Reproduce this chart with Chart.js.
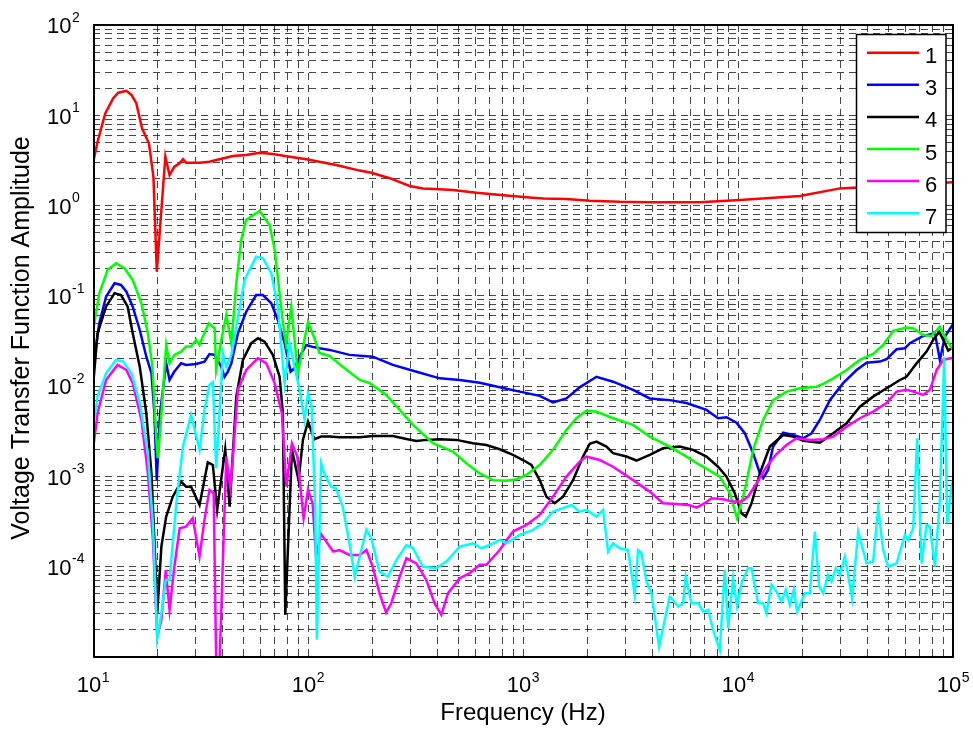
<!DOCTYPE html>
<html>
<head>
<meta charset="utf-8">
<title>Voltage Transfer Function Amplitude</title>
<script src="https://cdn.jsdelivr.net/npm/chart.js@4.4.1/dist/chart.umd.min.js"></script>
<style>
	html, body { margin: 0; padding: 0; background: #fff; }
	#wrap { width: 973px; height: 732px; }
</style>
</head>
<body>
<div id="wrap"><canvas id="chart" width="973" height="732"></canvas></div>
<script>

// series names and colours, in legend order
const seriesNames = [ '1', '3', '4', '5', '6', '7' ];
const seriesColours = [ '#ff0000', '#0000ff', '#000000', '#00ff00', '#ff00ff', '#00ffff' ];

// decade labels shown on the axes (powers of ten)
const xTickExponents = [ 1, 2, 3, 4, 5 ];
const yTickExponents = [ -4, -3, -2, -1, 0, 1, 2 ];

// frequency (Hz) / amplitude pairs

const freq1 = [ 10, 10.5, 11.4, 12.4, 13.1, 14.3, 15.1, 15.9, 16.9, 18.2, 19.1, 19.8, 21.7, 22.7, 23.9, 25.3, 26.2, 27.1, 31.3, 34.8,
	38.8, 44.7, 51.6, 59.5, 68.6, 82.1, 98.2, 113, 135, 174, 197, 240, 297, 342, 410, 472, 607, 837, 1037, 1239,
	1592, 2043, 2818, 3887, 6640, 10200, 19400, 29800, 100000 ];
const amp1 = [ 2.94, 5.10, 10.5, 15.4, 17.8, 18.7, 16.8, 13.6, 7.18, 4.90, 2.09, 0.185, 3.48, 2.18, 2.70, 2.94, 3.26, 2.99, 2.99, 3.06,
	3.26, 3.54, 3.63, 3.85, 3.73, 3.48, 3.26, 3.06, 2.82, 2.44, 2.31, 2.01, 1.65, 1.55, 1.52, 1.49, 1.39, 1.29, 1.24, 1.20,
	1.18, 1.13, 1.10, 1.09, 1.09, 1.15, 1.28, 1.55, 1.81 ];

const freq3 = [ 10, 10.7, 11.5, 12.6, 13.5, 14.3, 15.3, 16.5, 17.7, 18.7, 19.3, 19.8, 20.5, 21.9, 22.7, 23.9, 25.7, 27.1, 30.2, 33.0,
	34.8, 36.8, 39.5, 40.9, 42.4, 44.0, 47.2, 51.6, 57.4, 61.7, 67.5, 72.4, 77.8, 83.0, 86.6, 91.4, 98.2, 104, 113, 126,
	156, 200, 248, 308, 410, 508, 629, 779, 965, 1196, 1379, 1592, 1835, 2196, 2623, 3250, 3887, 4815, 5754, 7136,
	8075, 8840, 9840, 10760, 11760, 12640, 13090, 13800, 14560, 16220, 18050, 20100, 21980, 24020, 26740, 30830, 35600, 39630, 45680, 49100,
	54660, 59750, 63020, 72650, 82380, 86900, 91700, 100000 ];
const amp3 = [ 1.64e-2, 4.97e-2, 9.8e-2, 1.38e-1, 1.32e-1, 1.11e-1, 7.59e-2, 4.19e-2, 2.12e-2, 1.39e-2, 5.01e-3, 9.1e-4, 5.0e-3, 1.79e-2, 1.17e-2, 1.45e-2, 1.79e-2, 1.72e-2, 1.76e-2, 1.87e-2,
	2.27e-2, 2.22e-2, 1.64e-2, 1.27e-2, 1.45e-2, 1.79e-2, 3.85e-2, 6.68e-2, 1.02e-1, 1.02e-1, 8.28e-2, 5.41e-2, 2.99e-2, 1.45e-2, 1.58e-2, 2.12e-2, 2.86e-2, 2.74e-2, 2.63e-2, 2.52e-2,
	2.22e-2, 2.12e-2, 1.72e-2, 1.48e-2, 1.22e-2, 1.17e-2, 1.09e-2, 9.7e-3, 8.7e-3, 7.8e-3, 6.6e-3, 7.3e-3, 9.7e-3, 1.27e-2, 1.12e-2, 9.1e-3, 7.3e-3, 7.0e-3, 6.5e-3, 5.45e-3,
	4.41e-3, 4.53e-3, 3.94e-3, 3.01e-3, 1.81e-3, 1.08e-3, 9.55e-4, 1.18e-3, 2.14e-3, 3.05e-3, 2.88e-3, 2.65e-3, 3.01e-3, 4.22e-3, 7.0e-3, 1.08e-2, 1.51e-2, 1.82e-2, 1.87e-2, 1.99e-2,
	2.56e-2, 2.63e-2, 2.99e-2, 3.6e-2, 3.85e-2, 1.95e-2, 3.53e-2, 4.85e-2 ];

const freq4 = [ 10, 10.5, 11.5, 12.6, 13.5, 14.5, 15.3, 16.5, 17.7, 18.7, 19.3, 19.9, 20.8, 21.9, 23.5, 25.7, 27.1, 28.6, 31.3, 34.2,
	36.1, 37.8, 41.2, 43.2, 46.4, 49.8, 54.5, 58.5, 62.8, 68.6, 73.8, 76.4, 78.4, 84.2, 90.4, 94.7, 100, 107, 115, 126,
	140, 174, 200, 248, 287, 319, 355, 410, 490, 585, 676, 779, 898, 1000, 1094, 1196, 1285, 1405, 1535, 1709,
	1902, 2043, 2196, 2444, 2623, 3028, 3372, 3887, 4482, 5358, 6180, 7136, 8075, 8840, 9660, 10380, 10870, 11560, 12640, 14060,
	16220, 18050, 20100, 24020, 27710, 31990, 36880, 42530, 49100, 56620, 60810, 67700, 75340, 80900, 86300, 91700, 95000, 98500 ];
const amp4 = [ 9.87e-3, 3.85e-2, 7.59e-2, 1.07e-1, 1.02e-1, 7.59e-2, 3.85e-2, 1.64e-2, 5.01e-3, 1.08e-3, 1.98e-4, 3.05e-5, 1.67e-4, 3.59e-4, 5.97e-4, 8.76e-4, 7.71e-4, 7.71e-4, 4.83e-4, 1.43e-3,
	1.34e-3, 4.26e-4, 2.0e-3, 4.63e-4, 7.65e-3, 1.95e-2, 2.99e-2, 3.39e-2, 3.11e-2, 2.22e-2, 1.27e-2, 5.01e-3, 2.93e-5, 1.97e-3, 9.1e-4, 2.54e-3, 4.04e-3, 2.58e-3, 2.76e-3, 2.76e-3,
	2.72e-3, 2.72e-3, 2.81e-3, 2.81e-3, 2.60e-3, 2.47e-3, 2.54e-3, 2.58e-3, 2.54e-3, 2.33e-3, 2.23e-3, 2.0e-3, 1.73e-3, 1.52e-3, 1.34e-3, 9.1e-4, 5.97e-4, 5.05e-4, 5.97e-4, 9.1e-4,
	1.66e-3, 2.3e-3, 2.43e-3, 2.14e-3, 1.81e-3, 1.66e-3, 1.50e-3, 1.73e-3, 2.05e-3, 2.14e-3, 1.97e-3, 1.66e-3, 1.28e-3, 9.95e-4, 6.52e-4, 3.91e-4, 3.59e-4, 5.05e-4, 1.08e-3, 2.14e-3,
	2.88e-3, 2.76e-3, 2.49e-3, 2.37e-3, 3.01e-3, 3.88e-3, 5.93e-3, 7.65e-3, 9.48e-3, 1.17e-2, 1.27e-2, 1.79e-2, 2.41e-2, 3.25e-2, 4.01e-2, 2.99e-2, 2.47e-2, 2.63e-2 ];

const freq5 = [ 10, 10.7, 11.7, 12.8, 14.0, 15.3, 16.8, 18.0, 18.9, 19.7, 20.0, 20.5, 21.9, 22.7, 23.9, 25.7, 27.1, 28.6, 30.2, 31.3,
	32.4, 34.6, 36.8, 37.4, 39.5, 41.7, 44.0, 46.4, 48.9, 51.5, 59.5, 66.3, 70.0, 76.2, 79.1, 83.6, 89.7, 100, 107, 113,
	126, 145, 174, 194, 231, 267, 308, 381, 472, 545, 629, 725, 837, 932, 1037, 1196, 1379, 1592, 1772, 1972,
	2196, 2623, 3250, 3887, 4815, 5754, 6640, 7390, 8230, 9160, 9900, 10760, 11760, 13090, 14560, 16820, 19400, 23190, 24890, 27710,
	31990, 36880, 42530, 47330, 52700, 60810, 65280, 72650, 79520, 86900, 93300, 100000 ];
const amp5 = [ 4.01e-2, 1.07e-1, 1.94e-1, 2.30e-1, 2.02e-1, 1.50e-1, 8.28e-2, 3.85e-2, 1.64e-2, 2.54e-3, 1.59e-3, 3.01e-3, 2.86e-2, 1.79e-2, 2.22e-2, 2.41e-2, 2.74e-2, 2.74e-2, 3.25e-2, 2.86e-2,
	3.53e-2, 4.97e-2, 4.38e-2, 1.51e-2, 3.25e-2, 6.14e-2, 2.99e-2, 1.38e-1, 4.16e-1, 6.93e-1, 8.71e-1, 6.10e-1, 3.22e-1, 5.41e-2, 2.86e-2, 7.54e-2, 1.40e-2, 5.14e-2, 3.42e-2, 2.33e-2,
	2.16e-2, 1.64e-2, 1.17e-2, 1.08e-2, 7.99e-3, 5.45e-3, 3.72e-3, 2.33e-3, 1.88e-3, 1.40e-3, 1.08e-3, 9.1e-4, 8.98e-4, 9.31e-4, 1.04e-3, 1.34e-3, 1.97e-3, 3.27e-3, 4.41e-3, 5.35e-3,
	5.22e-3, 4.41e-3, 3.72e-3, 2.76e-3, 2.14e-3, 1.66e-3, 1.34e-3, 1.16e-3, 9.95e-4, 6.52e-4, 3.44e-4, 7.09e-4, 1.97e-3, 4.22e-3, 7.0e-3, 8.7e-3, 9.48e-3, 9.87e-3, 1.06e-2, 1.22e-2,
	1.51e-2, 1.95e-2, 2.27e-2, 2.86e-2, 4.09e-2, 4.45e-2, 4.38e-2, 3.69e-2, 3.6e-2, 4.56e-2, 3.25e-2, 2.52e-2 ];

const freq6 = [ 10, 10.5, 11.5, 13.0, 14.3, 15.3, 16.8, 18.0, 19.0, 19.9, 20.8, 21.8, 22.7, 23.9, 25.3, 27.1, 29.1, 31.3, 33.0, 34.8,
	36.4, 37.4, 38.8, 41.7, 43.6, 47.2, 51.6, 58.5, 64.0, 69.9, 75.6, 79.3, 84.2, 89.2, 95.4, 100, 105, 109, 115, 131,
	140, 156, 174, 187, 200, 215, 231, 244, 267, 287, 319, 355, 388, 417, 448, 508, 565, 629, 676, 779,
	898, 1037, 1196, 1379, 1592, 1835, 1972, 2275, 2623, 3250, 3887, 4482, 5173, 5968, 6412, 7006, 7528, 8524, 9485, 10380,
	11140, 12190, 13570, 15100, 16820, 18710, 21580, 24890, 27710, 31990, 36880, 42530, 49100, 54660, 60810, 65280, 72650, 78100, 83880, 90070,
	100000 ];
const amp6 = [ 1.97e-3, 5.01e-3, 1.17e-2, 1.72e-2, 1.51e-2, 1.08e-2, 4.22e-3, 1.08e-3, 1.98e-4, 1.68e-5, 2.58e-5, 9.22e-5, 3.32e-5, 1.0e-4, 2.67e-4, 2.78e-4, 3.44e-4, 1.29e-4, 3.30e-4, 7.09e-4,
	6.52e-4, 9e-6, 9e-6, 1.66e-3, 7.4e-4, 9.1e-3, 1.51e-2, 2.04e-2, 1.79e-2, 1.08e-2, 5.01e-3, 7.71e-4, 2.33e-3, 1.66e-3, 3.44e-4, 7.09e-4, 5.05e-4, 1.29e-4, 2.3e-4, 1.47e-4,
	1.53e-4, 1.35e-4, 1.35e-4, 1.53e-4, 1.0e-4, 5.09e-5, 3.10e-5, 3.94e-5, 7.77e-5, 1.24e-4, 1.09e-4, 7.14e-5, 3.94e-5, 2.93e-5, 5.09e-5, 7.46e-5, 8.47e-5, 1.05e-4, 1.05e-4, 1.53e-4,
	2.45e-4, 2.90e-4, 3.75e-4, 5.97e-4, 9.95e-4, 1.46e-3, 1.66e-3, 1.52e-3, 1.28e-3, 9.1e-4, 6.79e-4, 5.05e-4, 4.96e-4, 4.80e-4, 4.51e-4, 5.05e-4, 5.74e-4, 5.59e-4, 5.26e-4, 5.26e-4,
	5.97e-4, 8.41e-4, 1.28e-3, 1.77e-3, 2.23e-3, 2.65e-3, 2.54e-3, 2.58e-3, 2.76e-3, 3.56e-3, 4.41e-3, 5.22e-3, 6.5e-3, 8.7e-3, 9.1e-3, 8.7e-3, 7.99e-3, 9.1e-3, 1.51e-2, 1.95e-2,
	2.07e-2 ];

const freq7 = [ 10, 10.5, 11.5, 12.8, 13.8, 15.1, 16.5, 18.0, 19.0, 19.9, 20.8, 21.8, 22.7, 24.4, 26.2, 28.6, 31.3, 33.0, 34.8, 36.1,
	37.4, 40.2, 41.7, 44.0, 46.4, 50.7, 57.4, 61.7, 67.5, 72.4, 77.8, 82.1, 86.6, 91.4, 96.4, 100, 104, 108, 110, 115,
	119, 128, 135, 145, 156, 165, 177, 187, 197, 215, 235, 258, 287, 308, 342, 395, 440, 508, 585, 640,
	700, 779, 837, 965, 1113, 1239, 1379, 1535, 1680, 1835, 1972, 2196, 2357, 2486, 2623, 2818, 3080, 3310, 3428, 3556,
	3752, 3958, 4295, 4815, 5264, 5556, 5715, 6075, 6522, 6880, 7260, 7657, 8230, 8682, 8995, 9485, 9900, 10380, 11140, 11560,
	12410, 13090, 13570, 14320, 15100, 15940, 16690, 17420, 18180, 18840, 20460, 21580, 22780, 23850, 24890, 26250, 27230, 28510, 29770, 31410,
	33960, 36220, 39630, 42530, 44870, 47330, 49950, 54660, 59750, 61880, 65280, 68130, 71450, 75340, 78100, 82380, 86900, 91010, 93970, 98500,
	100000 ];
const amp7 = [ 3.27e-3, 7.65e-3, 1.39e-2, 1.95e-2, 1.87e-2, 1.39e-2, 6.5e-3, 1.81e-3, 3.03e-4, 1.62e-5, 3.05e-5, 7.14e-5, 7.14e-5, 5.0e-4, 2.14e-3, 4.80e-3, 1.97e-3, 5.45e-3, 1.03e-2, 1.11e-2,
	1.23e-3, 2.31e-2, 1.64e-2, 2.22e-2, 4.56e-2, 1.50e-1, 2.72e-1, 2.61e-1, 1.78e-1, 7.59e-2, 1.08e-2, 2.99e-2, 1.64e-2, 9.1e-3, 4.22e-3, 8.34e-3, 5.93e-3, 4.63e-4, 1.55e-5, 1.40e-3,
	1.08e-3, 7.71e-4, 7.4e-4, 4.63e-4, 1.82e-4, 7.77e-5, 1.53e-4, 2.56e-4, 2.07e-4, 8.83e-5, 7.77e-5, 1.19e-4, 1.74e-4, 1.60e-4, 1.0e-4, 9.62e-5, 1.14e-4, 1.67e-4, 1.82e-4, 1.60e-4,
	1.74e-4, 1.98e-4, 1.82e-4, 2.25e-4, 2.56e-4, 3.03e-4, 4.07e-4, 4.45e-4, 4.83e-4, 4.07e-4, 4.26e-4, 3.59e-4, 4.26e-4, 1.47e-4, 1.82e-4, 1.60e-4, 1.53e-4, 4.87e-5, 1.53e-4, 1.41e-4,
	6.84e-5, 5.09e-5, 1.30e-5, 4.67e-5, 3.61e-5, 3.94e-5, 7.77e-5, 3.94e-5, 3.94e-5, 3.18e-5, 3.32e-5, 2.0e-5, 1.2e-5, 9.22e-5, 2.08e-5, 7.46e-5, 3.61e-5, 6.57e-5, 9.62e-5, 9.62e-5,
	3.94e-5, 3.94e-5, 3.05e-5, 6.29e-5, 5.30e-5, 4.11e-5, 5.53e-5, 3.78e-5, 5.53e-5, 3.18e-5, 5.09e-5, 5.09e-5, 2.45e-4, 6.02e-5, 5.09e-5, 8.11e-5, 6.84e-5, 9.62e-5, 8.11e-5, 1.29e-4,
	4.48e-5, 2.45e-4, 1.09e-4, 1.14e-4, 4.45e-4, 1.53e-4, 1.0e-4, 1.09e-4, 2.25e-4, 1.98e-4, 2.67e-4, 2.65e-3, 1.09e-4, 2.90e-4, 2.78e-4, 1.0e-4, 5.49e-4, 2.12e-2, 3.03e-4, 7.71e-4,
	8.76e-4 ];

const seriesFreq = [ freq1, freq3, freq4, freq5, freq6, freq7 ];
const seriesAmp = [ amp1, amp3, amp4, amp5, amp6, amp7 ];

const FONT_FAMILY = '"Liberation Sans", Arial, Helvetica, sans-serif';

// grid at 1..9 x 10^n, like a matlab log grid
function decadeTicks ( minExp, maxExp ) {

	const ticks = [];

	for ( let e = minExp; e < maxExp; e ++ ) {

		for ( let m = 1; m < 10; m ++ ) ticks.push( { value: m * Math.pow( 10, e ) } );

	}

	ticks.push( { value: Math.pow( 10, maxExp ) } );

	return ticks;

}

function drawPower ( ctx, exp, x, y, supDy, align ) {

	ctx.font = '22px ' + FONT_FAMILY;
	const w1 = ctx.measureText( '10' ).width;
	ctx.font = '14px ' + FONT_FAMILY;
	const w2 = ctx.measureText( String( exp ) ).width;

	const left = align === 'center' ? x - ( w1 + w2 ) / 2 : x;

	ctx.textAlign = 'left';
	ctx.font = '22px ' + FONT_FAMILY;
	ctx.fillText( '10', left, y );
	ctx.font = '14px ' + FONT_FAMILY;
	ctx.fillText( String( exp ), left + w1 + 0.5, y + supDy );

}

const matlabFrame = {

	id: 'matlabFrame',

	afterDatasetsDraw ( chart ) {

		const ctx = chart.ctx;
		const area = chart.chartArea;

		ctx.save();
		ctx.strokeStyle = '#000';
		ctx.lineWidth = 2;
		ctx.setLineDash( [] );
		ctx.strokeRect( Math.round( area.left ) + 1, Math.round( area.top ), Math.round( area.right - area.left ) - 1, Math.round( area.bottom - area.top ) );
		ctx.restore();

	},

	afterDraw ( chart ) {

		const ctx = chart.ctx;
		const area = chart.chartArea;
		const xs = chart.scales.x;
		const ys = chart.scales.y;

		ctx.save();
		ctx.fillStyle = '#000';
		ctx.textBaseline = 'alphabetic';

		xTickExponents.forEach( e => {

			drawPower( ctx, e, xs.getPixelForValue( Math.pow( 10, e ) ), area.bottom + 35, -10.5, 'center' );

		} );

		yTickExponents.forEach( e => {

			drawPower( ctx, e, 47, ys.getPixelForValue( Math.pow( 10, e ) ) + 8.3, -11.6, 'left' );

		} );

		// axis titles
		ctx.font = '24px ' + FONT_FAMILY;
		ctx.textAlign = 'center';
		ctx.fillText( 'Frequency (Hz)', ( area.left + area.right ) / 2, area.bottom + 63 );

		ctx.font = '25px ' + FONT_FAMILY;
		ctx.save();
		ctx.translate( 29, ( area.top + area.bottom ) / 2 - 3 );
		ctx.rotate( - Math.PI / 2 );
		ctx.fillText( 'Voltage Transfer Function Amplitude', 0, 0 );
		ctx.restore();

		// legend box, top right inside the axes
		const box = { left: 856.5, top: 34.5, width: 89.5, height: 198 };

		ctx.fillStyle = '#fff';
		ctx.fillRect( box.left, box.top, box.width, box.height );
		ctx.strokeStyle = '#000';
		ctx.lineWidth = 1.5;
		ctx.strokeRect( box.left, box.top, box.width, box.height );

		ctx.font = '22px ' + FONT_FAMILY;
		ctx.textAlign = 'left';

		seriesNames.forEach( ( name, i ) => {

			const ly = 52.7 + i * 32.1;

			ctx.strokeStyle = seriesColours[ i ];
			ctx.lineWidth = 2.5;
			ctx.beginPath();
			ctx.moveTo( 867, ly );
			ctx.lineTo( 919, ly );
			ctx.stroke();

			ctx.fillStyle = '#000';
			ctx.fillText( name, 925, ly + 10.5 );

		} );

		ctx.restore();

	}

};

const datasets = seriesNames.map( ( name, i ) => ( {
	label: name,
	data: seriesFreq[ i ].map( ( f, j ) => ( { x: f, y: seriesAmp[ i ][ j ] } ) ),
	borderColor: seriesColours[ i ],
	backgroundColor: seriesColours[ i ],
	borderWidth: 2.5,
	pointRadius: 0,
	tension: 0,
	fill: false,
	order: seriesNames.length - i
} ) );

const gridStyle = {
	color: 'rgba(0, 0, 0, 0.72)',
	lineWidth: 1,
	drawTicks: false
};

const config = {
	type: 'line',
	data: { datasets: datasets },
	options: {
		responsive: false,
		animation: false,
		devicePixelRatio: 1,
		layout: {
			padding: { left: 93, right: 20, top: 25, bottom: 75 }
		},
		plugins: {
			legend: { display: false },
			tooltip: { enabled: false },
			title: { display: false }
		},
		scales: {
			x: {
				type: 'logarithmic',
				min: 10,
				max: 100000,
				grid: gridStyle,
				border: { display: false, dash: [ 7, 5 ] },
				ticks: { display: false },
				afterBuildTicks: axis => { axis.ticks = decadeTicks( 1, 5 ); }
			},
			y: {
				type: 'logarithmic',
				min: 1e-5,
				max: 100,
				grid: gridStyle,
				border: { display: false, dash: [ 7, 5 ] },
				ticks: { display: false },
				afterBuildTicks: axis => { axis.ticks = decadeTicks( -5, 2 ); }
			}
		}
	},
	plugins: [ matlabFrame ]
};

new Chart( document.getElementById( 'chart' ), config );

</script>
</body>
</html>
